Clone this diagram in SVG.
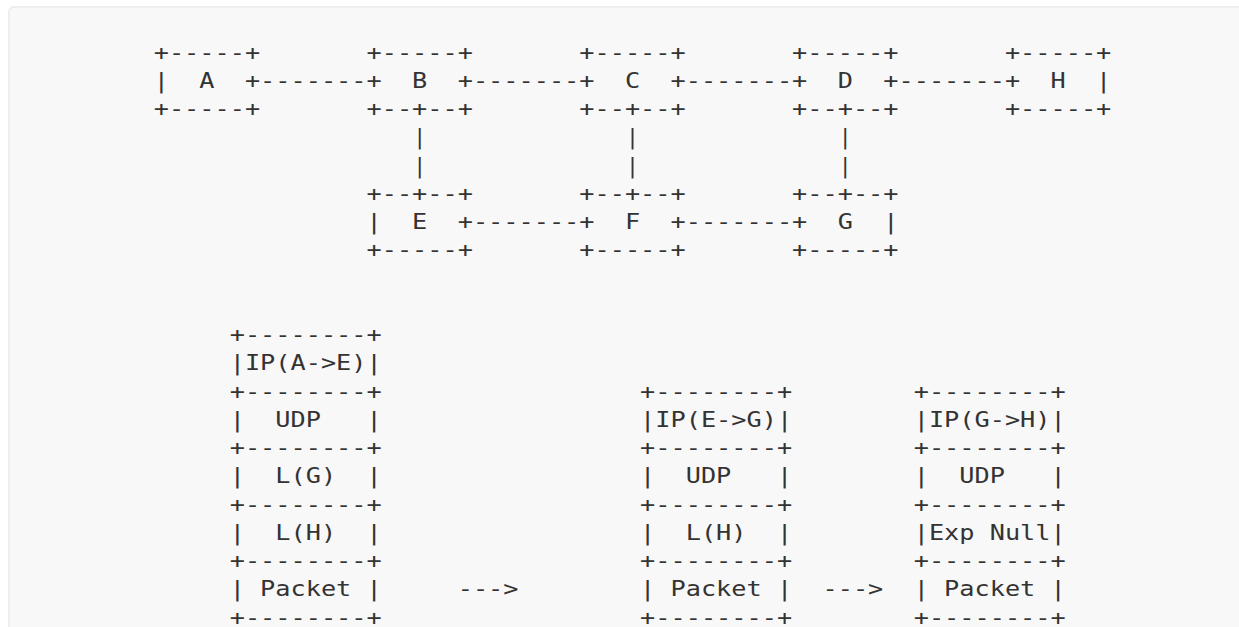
<svg xmlns="http://www.w3.org/2000/svg" width="1239" height="627" viewBox="0 0 1239 627">
<style>
.t { font-family: "DejaVu Sans Mono", "Liberation Mono", monospace; font-size: 21.5px; fill: #333333; white-space: pre; }
.v { font-family: "DejaVu Sans Mono", "Liberation Mono", monospace; font-size: 21.5px; fill: #333333; text-anchor: middle; }
</style>
<rect x="0" y="0" width="1239" height="627" fill="#ffffff"/>
<rect x="9" y="7" width="1300" height="700" rx="5" fill="#f8f8f8" stroke="#eeeeee" stroke-width="2"/>
<g id="connectors">
  <text class="t" x="260.1" y="87.95" textLength="106.4" lengthAdjust="spacingAndGlyphs">-------</text>
  <text class="t" x="472.9" y="87.95" textLength="106.4" lengthAdjust="spacingAndGlyphs">-------</text>
  <text class="t" x="685.7" y="87.95" textLength="106.4" lengthAdjust="spacingAndGlyphs">-------</text>
  <text class="t" x="898.5" y="87.95" textLength="106.4" lengthAdjust="spacingAndGlyphs">-------</text>
  <text class="t" x="472.9" y="229.2" textLength="106.4" lengthAdjust="spacingAndGlyphs">-------</text>
  <text class="t" x="685.7" y="229.2" textLength="106.4" lengthAdjust="spacingAndGlyphs">-------</text>
  <text class="v" x="419.7" y="144.45">|</text>
  <text class="v" x="419.7" y="172.7">|</text>
  <text class="v" x="632.5" y="144.45">|</text>
  <text class="v" x="632.5" y="172.7">|</text>
  <text class="v" x="845.3" y="144.45">|</text>
  <text class="v" x="845.3" y="172.7">|</text>
  <text class="t" x="457.7" y="596.45" textLength="60.8" lengthAdjust="spacingAndGlyphs">---&gt;</text>
  <text class="t" x="822.5" y="596.45" textLength="60.8" lengthAdjust="spacingAndGlyphs">---&gt;</text>
</g>
<g id="node-A">
  <text class="t" x="153.7" y="59.7" textLength="106.4" lengthAdjust="spacingAndGlyphs">+-----+</text>
  <text class="t" x="153.7" y="87.95" textLength="106.4" lengthAdjust="spacingAndGlyphs">|  A  +</text>
  <text class="t" x="153.7" y="116.2" textLength="106.4" lengthAdjust="spacingAndGlyphs">+-----+</text>
</g>
<g id="node-B">
  <text class="t" x="366.5" y="59.7" textLength="106.4" lengthAdjust="spacingAndGlyphs">+-----+</text>
  <text class="t" x="366.5" y="87.95" textLength="106.4" lengthAdjust="spacingAndGlyphs">+  B  +</text>
  <text class="t" x="366.5" y="116.2" textLength="106.4" lengthAdjust="spacingAndGlyphs">+--+--+</text>
</g>
<g id="node-C">
  <text class="t" x="579.3" y="59.7" textLength="106.4" lengthAdjust="spacingAndGlyphs">+-----+</text>
  <text class="t" x="579.3" y="87.95" textLength="106.4" lengthAdjust="spacingAndGlyphs">+  C  +</text>
  <text class="t" x="579.3" y="116.2" textLength="106.4" lengthAdjust="spacingAndGlyphs">+--+--+</text>
</g>
<g id="node-D">
  <text class="t" x="792.1" y="59.7" textLength="106.4" lengthAdjust="spacingAndGlyphs">+-----+</text>
  <text class="t" x="792.1" y="87.95" textLength="106.4" lengthAdjust="spacingAndGlyphs">+  D  +</text>
  <text class="t" x="792.1" y="116.2" textLength="106.4" lengthAdjust="spacingAndGlyphs">+--+--+</text>
</g>
<g id="node-H">
  <text class="t" x="1004.9" y="59.7" textLength="106.4" lengthAdjust="spacingAndGlyphs">+-----+</text>
  <text class="t" x="1004.9" y="87.95" textLength="106.4" lengthAdjust="spacingAndGlyphs">+  H  |</text>
  <text class="t" x="1004.9" y="116.2" textLength="106.4" lengthAdjust="spacingAndGlyphs">+-----+</text>
</g>
<g id="node-E">
  <text class="t" x="366.5" y="200.95" textLength="106.4" lengthAdjust="spacingAndGlyphs">+--+--+</text>
  <text class="t" x="366.5" y="229.2" textLength="106.4" lengthAdjust="spacingAndGlyphs">|  E  +</text>
  <text class="t" x="366.5" y="257.45" textLength="106.4" lengthAdjust="spacingAndGlyphs">+-----+</text>
</g>
<g id="node-F">
  <text class="t" x="579.3" y="200.95" textLength="106.4" lengthAdjust="spacingAndGlyphs">+--+--+</text>
  <text class="t" x="579.3" y="229.2" textLength="106.4" lengthAdjust="spacingAndGlyphs">+  F  +</text>
  <text class="t" x="579.3" y="257.45" textLength="106.4" lengthAdjust="spacingAndGlyphs">+-----+</text>
</g>
<g id="node-G">
  <text class="t" x="792.1" y="200.95" textLength="106.4" lengthAdjust="spacingAndGlyphs">+--+--+</text>
  <text class="t" x="792.1" y="229.2" textLength="106.4" lengthAdjust="spacingAndGlyphs">+  G  |</text>
  <text class="t" x="792.1" y="257.45" textLength="106.4" lengthAdjust="spacingAndGlyphs">+-----+</text>
</g>
<g id="packet-at-A">
  <text class="t" x="229.7" y="342.2" textLength="152" lengthAdjust="spacingAndGlyphs">+--------+</text>
  <text class="t" x="229.7" y="370.45" textLength="152" lengthAdjust="spacingAndGlyphs">|IP(A-&gt;E)|</text>
  <text class="t" x="229.7" y="398.7" textLength="152" lengthAdjust="spacingAndGlyphs">+--------+</text>
  <text class="t" x="229.7" y="426.95" textLength="152" lengthAdjust="spacingAndGlyphs">|  UDP   |</text>
  <text class="t" x="229.7" y="455.2" textLength="152" lengthAdjust="spacingAndGlyphs">+--------+</text>
  <text class="t" x="229.7" y="483.45" textLength="152" lengthAdjust="spacingAndGlyphs">|  L(G)  |</text>
  <text class="t" x="229.7" y="511.7" textLength="152" lengthAdjust="spacingAndGlyphs">+--------+</text>
  <text class="t" x="229.7" y="539.95" textLength="152" lengthAdjust="spacingAndGlyphs">|  L(H)  |</text>
  <text class="t" x="229.7" y="568.2" textLength="152" lengthAdjust="spacingAndGlyphs">+--------+</text>
  <text class="t" x="229.7" y="596.45" textLength="152" lengthAdjust="spacingAndGlyphs">| Packet |</text>
  <text class="t" x="229.7" y="624.7" textLength="152" lengthAdjust="spacingAndGlyphs">+--------+</text>
</g>
<g id="packet-at-E">
  <text class="t" x="640.1" y="398.7" textLength="152" lengthAdjust="spacingAndGlyphs">+--------+</text>
  <text class="t" x="640.1" y="426.95" textLength="152" lengthAdjust="spacingAndGlyphs">|IP(E-&gt;G)|</text>
  <text class="t" x="640.1" y="455.2" textLength="152" lengthAdjust="spacingAndGlyphs">+--------+</text>
  <text class="t" x="640.1" y="483.45" textLength="152" lengthAdjust="spacingAndGlyphs">|  UDP   |</text>
  <text class="t" x="640.1" y="511.7" textLength="152" lengthAdjust="spacingAndGlyphs">+--------+</text>
  <text class="t" x="640.1" y="539.95" textLength="152" lengthAdjust="spacingAndGlyphs">|  L(H)  |</text>
  <text class="t" x="640.1" y="568.2" textLength="152" lengthAdjust="spacingAndGlyphs">+--------+</text>
  <text class="t" x="640.1" y="596.45" textLength="152" lengthAdjust="spacingAndGlyphs">| Packet |</text>
  <text class="t" x="640.1" y="624.7" textLength="152" lengthAdjust="spacingAndGlyphs">+--------+</text>
</g>
<g id="packet-at-G">
  <text class="t" x="913.7" y="398.7" textLength="152" lengthAdjust="spacingAndGlyphs">+--------+</text>
  <text class="t" x="913.7" y="426.95" textLength="152" lengthAdjust="spacingAndGlyphs">|IP(G-&gt;H)|</text>
  <text class="t" x="913.7" y="455.2" textLength="152" lengthAdjust="spacingAndGlyphs">+--------+</text>
  <text class="t" x="913.7" y="483.45" textLength="152" lengthAdjust="spacingAndGlyphs">|  UDP   |</text>
  <text class="t" x="913.7" y="511.7" textLength="152" lengthAdjust="spacingAndGlyphs">+--------+</text>
  <text class="t" x="913.7" y="539.95" textLength="152" lengthAdjust="spacingAndGlyphs">|Exp Null|</text>
  <text class="t" x="913.7" y="568.2" textLength="152" lengthAdjust="spacingAndGlyphs">+--------+</text>
  <text class="t" x="913.7" y="596.45" textLength="152" lengthAdjust="spacingAndGlyphs">| Packet |</text>
  <text class="t" x="913.7" y="624.7" textLength="152" lengthAdjust="spacingAndGlyphs">+--------+</text>
</g>
</svg>
